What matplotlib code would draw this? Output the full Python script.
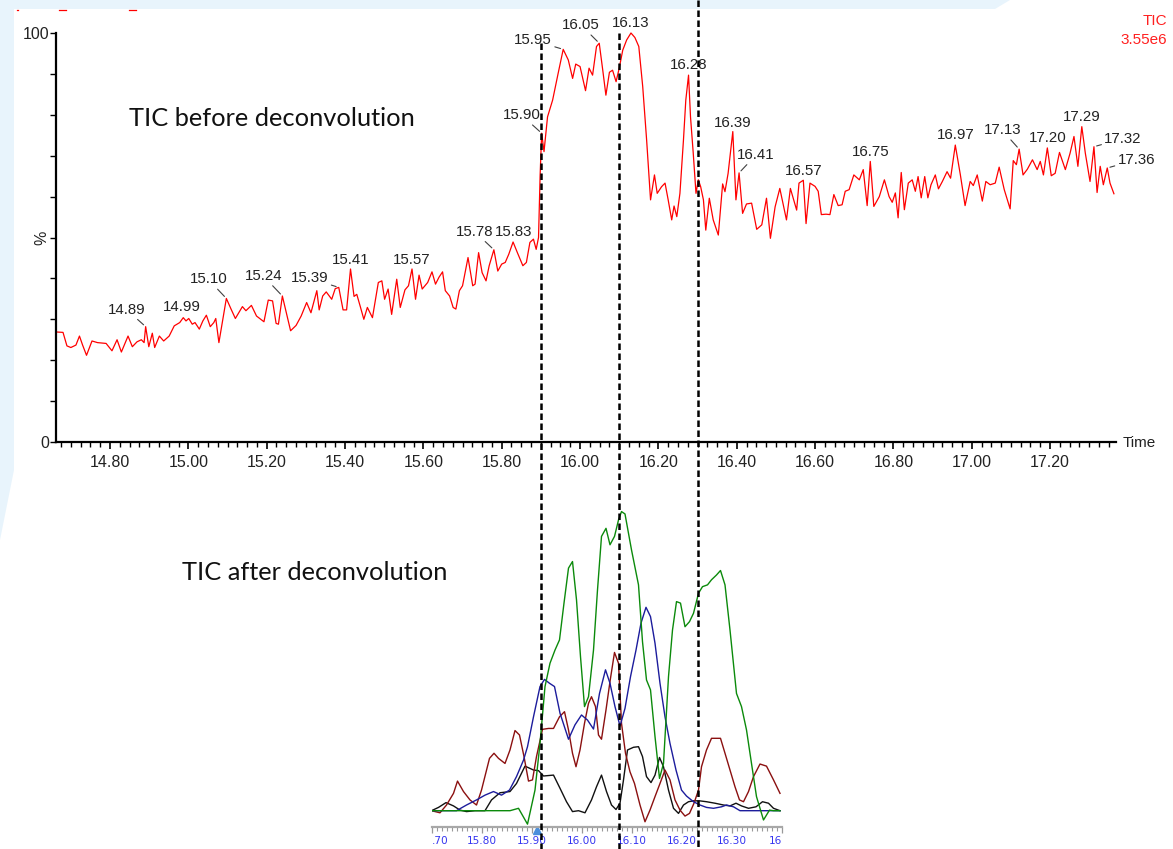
import numpy as np
import matplotlib
matplotlib.use('Agg')
import matplotlib.pyplot as plt
import matplotlib.transforms as mtransforms
from matplotlib.lines import Line2D
from matplotlib.patches import Polygon
from matplotlib.ticker import MultipleLocator

plt.rcParams['font.family'] = ['Liberation Sans', 'DejaVu Sans']

# --- TIC before deconvolution (time in min, % of 3.55e6) ---
tic_time = [
    14.663, 14.680, 14.690, 14.700, 14.713, 14.722, 14.730, 14.740, 14.754, 14.768,
    14.790, 14.805, 14.818, 14.829, 14.846, 14.857, 14.869, 14.880, 14.887, 14.891,
    14.899, 14.908, 14.914, 14.926, 14.937, 14.951, 14.964, 14.978, 14.987, 14.994,
    15.001, 15.010, 15.017, 15.028, 15.037, 15.046, 15.056, 15.065, 15.070, 15.078,
    15.088, 15.097, 15.109, 15.120, 15.138, 15.147, 15.161, 15.174, 15.193, 15.204,
    15.215, 15.224, 15.230, 15.240, 15.252, 15.261, 15.275, 15.288, 15.302, 15.313,
    15.328, 15.334, 15.343, 15.352, 15.366, 15.375, 15.384, 15.395, 15.404, 15.414,
    15.423, 15.430, 15.439, 15.448, 15.457, 15.470, 15.485, 15.494, 15.501, 15.510,
    15.519, 15.532, 15.541, 15.553, 15.562, 15.571, 15.580, 15.589, 15.597, 15.611,
    15.622, 15.631, 15.640, 15.649, 15.656, 15.667, 15.676, 15.683, 15.692, 15.700,
    15.714, 15.726, 15.732, 15.741, 15.750, 15.760, 15.768, 15.780, 15.790, 15.800,
    15.809, 15.818, 15.829, 15.840, 15.854, 15.863, 15.872, 15.881, 15.888, 15.894,
    15.898, 15.902, 15.908, 15.917, 15.930, 15.944, 15.957, 15.970, 15.981, 15.989,
    16.000, 16.014, 16.023, 16.032, 16.042, 16.049, 16.058, 16.066, 16.075, 16.083,
    16.092, 16.100, 16.109, 16.119, 16.130, 16.140, 16.150, 16.160, 16.170, 16.180,
    16.190, 16.197, 16.208, 16.217, 16.225, 16.234, 16.240, 16.247, 16.255, 16.264,
    16.270, 16.277, 16.282, 16.289, 16.296, 16.302, 16.308, 16.315, 16.321, 16.330,
    16.340, 16.353, 16.364, 16.370, 16.378, 16.390, 16.398, 16.406, 16.415, 16.425,
    16.438, 16.451, 16.464, 16.476, 16.486, 16.498, 16.510, 16.527, 16.537, 16.553,
    16.559, 16.570, 16.577, 16.587, 16.600, 16.608, 16.616, 16.628, 16.638, 16.648,
    16.659, 16.669, 16.677, 16.687, 16.699, 16.713, 16.723, 16.733, 16.741, 16.750,
    16.764, 16.777, 16.789, 16.797, 16.805, 16.812, 16.820, 16.828, 16.838, 16.848,
    16.856, 16.863, 16.871, 16.880, 16.888, 16.896, 16.907, 16.915, 16.925, 16.937,
    16.946, 16.958, 16.971, 16.983, 16.996, 17.004, 17.014, 17.027, 17.036, 17.047,
    17.060, 17.070, 17.083, 17.098, 17.106, 17.114, 17.121, 17.131, 17.142, 17.155,
    17.167, 17.175, 17.183, 17.193, 17.203, 17.213, 17.224, 17.239, 17.251, 17.261,
    17.271, 17.281, 17.290, 17.302, 17.312, 17.320, 17.328, 17.336, 17.346, 17.353,
    17.363,
]
tic_value = [
    26.9, 26.8, 23.5, 23.1, 23.7, 25.9, 23.7, 21.2, 24.7, 24.3,
    24.1, 22.3, 25.0, 22.0, 25.9, 23.3, 24.5, 25.0, 24.3, 28.2,
    23.3, 26.6, 23.1, 25.9, 24.7, 25.9, 28.4, 29.2, 30.4, 29.6,
    30.2, 28.8, 29.2, 27.6, 29.6, 31.0, 28.2, 29.2, 30.2, 24.3,
    30.0, 35.1, 32.5, 30.2, 33.1, 32.1, 33.4, 30.8, 29.4, 34.7,
    34.5, 29.0, 28.8, 35.7, 30.8, 27.2, 28.5, 30.8, 34.1, 31.6,
    37.0, 32.3, 35.7, 36.7, 34.9, 37.5, 37.8, 32.3, 32.3, 42.3,
    35.6, 36.1, 33.1, 30.0, 32.9, 30.4, 39.0, 39.4, 34.9, 37.4,
    31.2, 39.8, 32.9, 37.2, 38.2, 42.3, 34.9, 40.8, 37.4, 39.0,
    41.6, 38.6, 40.3, 41.6, 37.0, 35.7, 32.9, 32.5, 37.0, 38.2,
    45.1, 38.2, 38.6, 46.3, 41.4, 39.4, 43.1, 47.0, 41.8, 43.5,
    43.9, 45.9, 48.9, 46.3, 43.1, 43.9, 48.8, 49.6, 47.1, 50.0,
    65.0, 75.5, 71.0, 79.5, 83.6, 90.1, 96.0, 93.4, 88.9, 92.4,
    91.8, 85.9, 91.4, 89.7, 96.7, 97.5, 90.9, 84.8, 90.4, 90.9,
    88.1, 91.4, 95.8, 98.3, 100.0, 98.9, 96.7, 86.9, 73.8, 59.2,
    65.3, 60.8, 62.4, 63.3, 59.2, 54.3, 57.7, 55.1, 60.8, 73.8,
    83.6, 89.7, 79.5, 70.6, 60.8, 64.1, 62.4, 59.2, 51.8, 59.6,
    54.3, 50.6, 63.1, 61.2, 65.7, 75.9, 59.2, 65.8, 55.9, 58.2,
    58.4, 52.0, 53.1, 59.6, 49.8, 57.5, 62.0, 54.3, 62.0, 56.7,
    63.3, 64.0, 53.4, 63.3, 62.5, 61.3, 55.6, 55.7, 55.6, 60.5,
    57.8, 58.0, 61.3, 61.7, 65.3, 64.1, 66.6, 57.8, 68.6, 57.6,
    60.0, 64.1, 60.0, 58.6, 60.9, 54.8, 65.9, 56.8, 63.3, 64.1,
    61.3, 64.9, 59.7, 64.9, 59.7, 62.9, 65.3, 61.9, 63.7, 66.1,
    64.5, 72.6, 65.3, 57.8, 63.7, 62.7, 65.3, 58.9, 63.7, 62.9,
    63.3, 67.2, 61.7, 57.0, 68.8, 67.8, 71.6, 65.3, 66.7, 69.0,
    66.6, 68.6, 65.3, 71.9, 65.1, 65.7, 70.8, 66.6, 70.6, 74.7,
    67.4, 77.1, 70.6, 63.7, 72.2, 61.0, 67.4, 62.9, 67.0, 63.3,
    60.7,
]

peak_labels = ['14.89', '14.99', '15.10', '15.24', '15.39', '15.41', '15.57', '15.78',
               '15.83', '15.90', '15.95', '16.05', '16.13', '16.28', '16.39', '16.41',
               '16.57', '16.75', '16.97', '17.13', '17.20', '17.29', '17.32', '17.36']
peak_times = [14.891, 14.987, 15.097, 15.240, 15.384, 15.414, 15.571, 15.780,
              15.829, 15.902, 15.957, 16.049, 16.130, 16.277, 16.390, 16.406,
              16.570, 16.741, 16.958, 17.121, 17.193, 17.281, 17.312, 17.346]
# label offsets in pixels and whether a leader line is drawn
label_offsets = [(-19, 17), (-1, 11), (-18, 19), (-19, 20), (-29, 9), (0, 9), (0, 9), (-19, 18),
                 (0, 10), (-20, 18), (-30, 9), (-18, 18), (0, 10), (0, 10), (0, 9), (17, 18),
                 (0, 9), (0, 9), (0, 10), (-17, 19), (0, 10), (0, 10), (29, 8), (29, 8)]
label_leader = [True, False, True, True, True, False, False, True,
                False, True, True, True, False, False, False, True,
                False, False, False, True, False, False, True, True]

top_ticks = [14.8, 15.0, 15.2, 15.4, 15.6, 15.8, 16.0, 16.2, 16.4, 16.6, 16.8, 17.0, 17.2]
top_tick_labels = ['14.80', '15.00', '15.20', '15.40', '15.60', '15.80', '16.00',
                   '16.20', '16.40', '16.60', '16.80', '17.00', '17.20']

# --- TIC after deconvolution (relative intensity) ---
green_t = [15.699, 15.750, 15.800, 15.856, 15.873, 15.891, 15.906, 15.916, 15.926, 15.936,
           15.946, 15.955, 15.964, 15.973, 15.981, 15.989, 15.997, 16.005, 16.013, 16.023,
           16.031, 16.039, 16.048, 16.056, 16.065, 16.073, 16.079, 16.086, 16.099, 16.113,
           16.121, 16.129, 16.137, 16.146, 16.155, 16.163, 16.173, 16.181, 16.189, 16.197,
           16.206, 16.215, 16.223, 16.233, 16.241, 16.251, 16.259, 16.269, 16.277, 16.286,
           16.296, 16.309, 16.319, 16.329, 16.339, 16.349, 16.363, 16.375, 16.383, 16.396]
green_v = [0, 0, 0, 0, 0.8, -4.5, 6.9, 22.5, 41.5, 49.3,
           53.7, 57.1, 69.4, 81.1, 83.3, 70.5, 51.5, 34.8, 38.1, 53.7,
           73.8, 91.7, 94.4, 88.9, 91.7, 97.2, 100.0, 99.2, 87.2, 75.5,
           56.5, 43.7, 40.4, 24.8, 10.8, 15.8, 44.8, 60.4, 69.9, 69.4,
           61.5, 63.2, 66.0, 72.7, 74.9, 75.5, 77.2, 78.8, 80.3, 75.5,
           60.4, 39.2, 34.8, 27.0, 15.8, 4.7, -3.1, 0.2, 0, 0]

blue_t = [15.699, 15.749, 15.769, 15.789, 15.806, 15.823, 15.839, 15.855, 15.869, 15.883,
          15.891, 15.903, 15.916, 15.925, 15.935, 15.945, 15.956, 15.973, 15.986, 15.999,
          16.011, 16.023, 16.035, 16.047, 16.056, 16.066, 16.076, 16.086, 16.097, 16.108,
          16.118, 16.128, 16.137, 16.146, 16.156, 16.166, 16.176, 16.188, 16.199, 16.209,
          16.223, 16.236, 16.249, 16.263, 16.279, 16.289, 16.303, 16.316, 16.336, 16.396]
blue_v = [0, 0, 1.9, 3.6, 5.2, 6.4, 5.2, 6.9, 11.4, 16.9,
          21.4, 31.4, 41.5, 43.9, 42.6, 41.5, 32.6, 23.9, 28.7, 32.0,
          30.3, 27.3, 39.2, 47.1, 42.6, 34.8, 28.3, 34.2, 44.8, 53.7,
          62.7, 68.0, 64.9, 56.0, 42.6, 31.4, 22.5, 13.6, 6.9, 4.9,
          3.0, 1.9, 1.1, 0.8, 1.3, 1.9, 1.3, 0, 0, 0]

red_t = [15.699, 15.716, 15.729, 15.743, 15.751, 15.763, 15.776, 15.789, 15.799, 15.815,
         15.824, 15.833, 15.846, 15.856, 15.866, 15.875, 15.884, 15.893, 15.901, 15.909,
         15.921, 15.933, 15.943, 15.955, 15.965, 15.973, 15.981, 15.988, 15.996, 16.005,
         16.013, 16.019, 16.027, 16.033, 16.039, 16.048, 16.056, 16.065, 16.073, 16.079,
         16.087, 16.096, 16.105, 16.116, 16.126, 16.136, 16.146, 16.156, 16.166, 16.176,
         16.186, 16.196, 16.206, 16.215, 16.224, 16.233, 16.239, 16.249, 16.259, 16.269,
         16.277, 16.286, 16.296, 16.306, 16.315, 16.323, 16.333, 16.343, 16.356, 16.369,
         16.383, 16.396]
red_v = [0, -0.7, 1.9, 5.8, 9.9, 6.4, 3.6, 1.9, 6.9, 17.5,
         19.2, 17.5, 15.8, 20.3, 26.8, 25.3, 18.1, 9.9, 10.3, 18.1,
         27.2, 27.5, 27.5, 31.4, 33.1, 27.0, 19.2, 14.7, 20.3, 29.2,
         35.9, 38.1, 34.8, 25.3, 23.9, 33.7, 43.2, 52.9, 49.3, 29.2,
         19.2, 13.0, 9.1, 1.9, -3.7, 0.2, 4.7, 9.1, 13.6, 10.3,
         3.6, 0.2, -1.8, -0.9, 2.5, 6.9, 14.7, 20.3, 24.2, 24.2,
         24.2, 19.2, 13.6, 8.0, 3.6, 3.0, 6.4, 11.4, 15.6, 14.9,
         10.3, 5.8]

black_t = [15.699, 15.713, 15.728, 15.743, 15.756, 15.769, 15.786, 15.806, 15.819, 15.836,
           15.856, 15.869, 15.886, 15.903, 15.913, 15.923, 15.943, 15.956, 15.969, 15.981,
           15.993, 16.006, 16.019, 16.029, 16.039, 16.049, 16.059, 16.068, 16.076, 16.083,
           16.091, 16.103, 16.113, 16.121, 16.129, 16.138, 16.146, 16.155, 16.163, 16.173,
           16.183, 16.193, 16.203, 16.213, 16.223, 16.235, 16.249, 16.266, 16.283, 16.296,
           16.308, 16.319, 16.333, 16.348, 16.361, 16.373, 16.383, 16.396]
black_v = [0, 1.1, 2.7, 1.6, 0.2, -0.3, 0, 0, 3.6, 6.0,
           6.4, 9.1, 14.9, 13.6, 13.4, 11.6, 11.9, 7.5, 3.0, -0.3,
           0, -0.7, 3.6, 8.0, 11.9, 6.4, 1.9, 0.4, 2.5, 10.3,
           20.3, 21.2, 21.4, 18.1, 11.4, 9.4, 11.9, 17.8, 14.7, 6.9,
           0.8, -0.9, 1.9, 3.0, 3.3, 3.3, 3.0, 2.5, 1.9, 1.6,
           2.5, 1.6, 0.8, 1.3, 3.0, 2.5, 0.8, 0]

bottom_ticks = [15.70, 15.80, 15.90, 16.00, 16.10, 16.20, 16.30, 16.40]
bottom_tick_labels = ['.70', '15.80', '15.90', '16.00', '16.10', '16.20', '16.30', '16']

marker_times = [15.90, 16.10, 16.30]

W, H = 1173, 849
fig = plt.figure(figsize=(W / 100, H / 100), dpi=100)
fig.patch.set_facecolor('white')


def fx(x):
    return x / W


def fy(y):
    return 1 - y / H


# slide background behind the pasted screenshot
bg = [(0, 0), (1010, 0), (995, 9), (14, 9), (14, 470), (0, 540)]
fig.add_artist(Polygon([(fx(a), fy(b)) for a, b in bg], closed=True,
                       transform=fig.transFigure, facecolor='#e8f4fc',
                       edgecolor='none', zorder=0))
for x0, x1 in [(17, 18), (59, 66), (129, 136)]:
    fig.add_artist(Line2D([fx(x0), fx(x1)], [fy(10), fy(10)], color='red', lw=0.9,
                          transform=fig.transFigure))

# top chromatogram
ax = fig.add_axes([fx(56), fy(442), (1116 - 56) / W, (442 - 33) / H])
ax.set_facecolor('none')
ax.plot(tic_time, tic_value, color='#ff0000', lw=0.9, clip_on=False)
ax.set_xlim(14.6621, 17.3683)
ax.set_ylim(0, 100)
for s in ['top', 'right']:
    ax.spines[s].set_visible(False)
for s in ['left', 'bottom']:
    ax.spines[s].set_linewidth(1.6)
    ax.spines[s].set_color('black')

ax.set_xticks(top_ticks, top_tick_labels)
ax.xaxis.set_minor_locator(MultipleLocator(0.025))
ax.tick_params(axis='x', which='major', direction='out', length=5, width=1.2,
               labelsize=11.5, pad=4.5, labelcolor='#222222')
ax.tick_params(axis='x', which='minor', direction='out', length=3.5, width=1.0)
ax.set_yticks(range(0, 101, 10),
              ['0', '', '', '', '', '%', '', '', '', '', '100'])
ax.tick_params(axis='y', direction='out', length=4, width=1.0, labelsize=11.5,
               pad=1, labelcolor='#222222')
for lab in ax.get_yticklabels():
    if lab.get_text() == '%':
        lab.set_rotation(90)
        lab.set_va('center')

for t, lab, (dx, dy), lead in zip(peak_times, peak_labels, label_offsets, label_leader):
    v = np.interp(t, tic_time, tic_value)
    kw = {}
    if lead:
        kw['arrowprops'] = dict(arrowstyle='-', color='#404040', lw=0.8,
                                shrinkA=0, shrinkB=2)
    ax.annotate(lab, (t, v), xytext=(dx, dy), textcoords='offset pixels',
                ha='center', va='center', fontsize=10.8, color='#222222',
                annotation_clip=False, **kw)

fig.text(fx(1167), fy(21), 'TIC', color='#ff2020', ha='right', va='center', fontsize=11)
fig.text(fx(1167), fy(40), '3.55e6', color='#ff2020', ha='right', va='center', fontsize=11)
fig.text(fx(1123), fy(443), 'Time', color='#222222', ha='left', va='center', fontsize=11)

# bottom deconvoluted traces
ax2 = fig.add_axes([fx(431.5), fy(826.7), (782 - 431.5) / W, (826.7 - 505) / H])
ax2.set_facecolor('none')
ax2.plot(black_t, black_v, color='#111111', lw=1.0)
ax2.plot(red_t, red_v, color='#8b1010', lw=1.0)
ax2.plot(blue_t, blue_v, color='#1c1c9c', lw=1.0)
ax2.plot(green_t, green_v, color='#0b8a0b', lw=1.0)
ax2.set_xlim(15.699, 16.40)
ax2.set_ylim(-5.35, 102.2)
for s in ['top', 'right', 'left']:
    ax2.spines[s].set_visible(False)
ax2.spines['bottom'].set_color('#a8a8a8')
ax2.spines['bottom'].set_linewidth(1.6)
ax2.set_yticks([])
ax2.set_xticks(bottom_ticks, bottom_tick_labels)
ax2.xaxis.set_minor_locator(MultipleLocator(0.01))
ax2.tick_params(axis='x', which='major', direction='out', length=4.5, width=0.9,
                color='#999999', labelsize=7.6, labelcolor='#3535f0', pad=2)
ax2.tick_params(axis='x', which='minor', direction='out', length=3, width=0.8,
                color='#999999')
for lab in ax2.get_xticklabels():
    lab.set_family('DejaVu Sans')
xl = ax2.get_xticklabels()
xl[0].set_ha('left')
xl[-1].set_ha('right')
ax2.plot([15.91], [-6.5], marker='^', color='#4a8fdc', ms=6, clip_on=False)

fig.text(fx(272), fy(118), 'TIC before deconvolution', family='Lato', fontsize=18.3,
         ha='center', va='center', color='#111111')
fig.text(fx(315), fy(573), 'TIC after deconvolution', family='Lato', fontsize=18.3,
         ha='center', va='center', color='#111111')

# dashed marker lines crossing both panels
trans = mtransforms.blended_transform_factory(ax.transData, fig.transFigure)
line_tops = [fy(43), fy(33), fy(0)]
for t, top in zip(marker_times, line_tops):
    fig.add_artist(Line2D([t, t], [top, 0], transform=trans, color='black', lw=1.8,
                          ls=(0, (2.6, 1.4)), zorder=10))

fig.savefig('out.png', dpi=100)
